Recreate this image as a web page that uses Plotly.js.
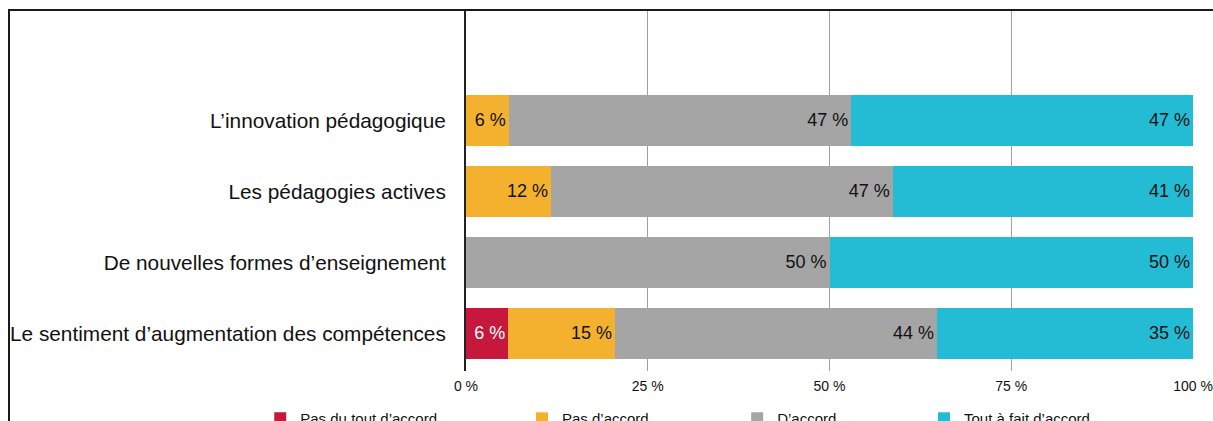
<!DOCTYPE html>
<html>
<head>
<meta charset="utf-8">
<script src="https://cdn.plot.ly/plotly-3.0.1.min.js"></script>
<style>
html, body { margin: 0; padding: 0; background: #fff; overflow: hidden; }
#wrap { position: relative; width: 1213px; height: 421px; }
#chart { width: 1213px; height: 421px; }
#frame { position: absolute; left: 8px; top: 9px; width: 1400px; height: 600px; border: 2px solid #1a1a1a; pointer-events: none; box-sizing: border-box; }
</style>
</head>
<body>
<div id="wrap">
  <div id="chart"></div>
  <div id="frame"></div>
</div>
<script>
// Categories listed bottom to top
const categories = [
  "Le sentiment d\u2019augmentation des compétences",
  "De nouvelles formes d\u2019enseignement",
  "Les pédagogies actives",
  "L\u2019innovation pédagogique"
];
const seriesNames = ["Pas du tout d\u2019accord", "Pas d\u2019accord", "D\u2019accord", "Tout à fait d\u2019accord"];
const pasDuTout   = [5.8, 0, 0, 0];
const pasDaccord  = [14.7, 0, 11.7, 5.9];
const daccord     = [44.3, 50, 47.0, 47.1];
const toutAFait   = [35.2, 50, 41.3, 47.0];
const seriesValues = [pasDuTout, pasDaccord, daccord, toutAFait];
const xTickVals = [0, 25, 50, 75, 100];
const xTickText = xTickVals.map(v => v + " %");

const colors = ["#C8173D", "#F4B12E", "#A5A5A5", "#23BCD4"];
const textColors = ["#ffffff", "#111111", "#111111", "#111111"];
const legendIds = ["legend", "legend2", "legend3", "legend4"];
const legendX = [-0.283, 0.077, 0.373, 0.630];

const font = "Liberation Sans, Arial, Helvetica, sans-serif";

const traces = seriesValues.map((vals, i) => ({
  type: "bar",
  orientation: "h",
  name: seriesNames[i],
  y: categories,
  x: vals,
  marker: { color: colors[i], line: { width: 0 } },
  text: vals.map(v => v > 0 ? Math.round(v) + " %" : ""),
  textposition: "inside",
  insidetextanchor: "end",
  textangle: 0,
  textfont: { family: font, size: 18, color: textColors[i] },
  constraintext: "none",
  hoverinfo: "skip",
  legend: legendIds[i]
}));

const legendBase = {
  orientation: "h",
  yref: "container",
  yanchor: "top",
  y: 0.045,
  xanchor: "left",
  bgcolor: "rgba(0,0,0,0)",
  font: { family: font, size: 15, color: "#111" }
};

const layout = {
  width: 1213,
  height: 421,
  margin: { l: 466, r: 20, t: 11, b: 50, autoexpand: false },
  paper_bgcolor: "#fff",
  plot_bgcolor: "#fff",
  barmode: "stack",
  bargap: 0.28,
  font: { family: font, color: "#111" },
  xaxis: {
    range: [0, 100],
    tickmode: "array",
    tickvals: xTickVals,
    ticktext: xTickText,
    showgrid: true,
    gridcolor: "#a0a0a0",
    gridwidth: 1,
    zeroline: false,
    showline: false,
    ticks: "",
    ticklabelstandoff: 5,
    tickfont: { family: font, size: 14, color: "#111" },
    automargin: false,
    fixedrange: true
  },
  yaxis: {
    type: "category",
    categoryorder: "array",
    categoryarray: categories,
    range: [-0.53, 4.54],
    showgrid: false,
    zeroline: false,
    showline: true,
    linecolor: "#222",
    linewidth: 2,
    ticks: "",
    ticklabelstandoff: 14,
    tickfont: { family: font, size: 20.8, color: "#111" },
    automargin: false,
    fixedrange: true
  },
  showlegend: true,
  legend:  Object.assign({}, legendBase, { x: legendX[0] }),
  legend2: Object.assign({}, legendBase, { x: legendX[1] }),
  legend3: Object.assign({}, legendBase, { x: legendX[2] }),
  legend4: Object.assign({}, legendBase, { x: legendX[3] })
};

Plotly.newPlot("chart", traces, layout, { displayModeBar: false, staticPlot: true });
</script>
</body>
</html>
